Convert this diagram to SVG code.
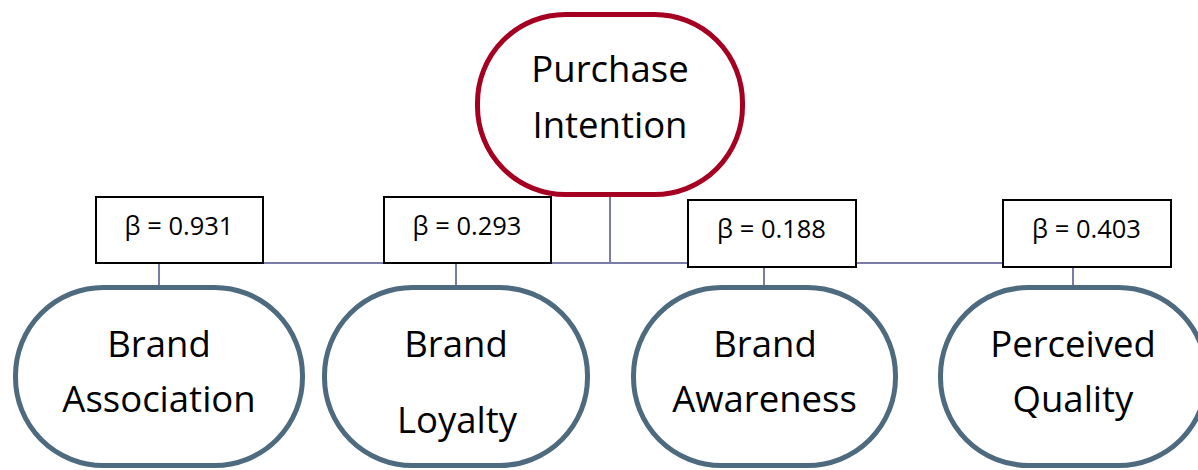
<svg xmlns="http://www.w3.org/2000/svg" width="1198" height="470" viewBox="0 0 1198 470">
<style>
.bg{fill:#ffffff}
.top{fill:#ffffff;stroke:#A50021;stroke-width:5}
.factor{fill:#ffffff;stroke:#4D6A7E;stroke-width:5}
.box{fill:#ffffff;stroke:#000000;stroke-width:2}
.conn{stroke:#7B7BAA;stroke-width:2;fill:none}
.lbl{font-family:"Open Sans","Liberation Sans",sans-serif;font-size:36.5px;fill:#000000;text-anchor:middle}
.beta{font-family:"Open Sans","Liberation Sans",sans-serif;font-size:25.5px;fill:#000000;text-anchor:middle}
</style>
<rect class="bg" x="0" y="0" width="1198" height="470"/>
<g id="connectors">
<line class="conn" x1="610" y1="196" x2="610" y2="263"/>
<line class="conn" x1="263" y1="263" x2="1002" y2="263"/>
<line class="conn" x1="159" y1="263" x2="159" y2="286"/>
<line class="conn" x1="456" y1="263" x2="456" y2="286"/>
<line class="conn" x1="764" y1="267" x2="764" y2="286"/>
<line class="conn" x1="1073" y1="267" x2="1073" y2="286"/>
</g>
<g id="purchase-intention">
<rect class="top" x="477.5" y="14.5" width="265" height="180" rx="88" ry="88"/>
<text class="lbl" x="610" y="82">Purchase</text>
<text class="lbl" x="610" y="138">Intention</text>
</g>
<g id="beta-0931">
<rect class="box" x="96" y="197" width="167" height="66"/>
<text class="beta" x="179" y="235">β = 0.931</text>
</g>
<g id="beta-0293">
<rect class="box" x="384" y="197" width="167" height="66"/>
<text class="beta" x="467" y="235">β = 0.293</text>
</g>
<g id="beta-0188">
<rect class="box" x="688" y="200" width="168" height="67"/>
<text class="beta" x="771.5" y="238">β = 0.188</text>
</g>
<g id="beta-0403">
<rect class="box" x="1003" y="200" width="168" height="67"/>
<text class="beta" x="1086.5" y="238">β = 0.403</text>
</g>
<g id="brand-association">
<rect class="factor" x="15.5" y="287.5" width="287" height="178" rx="88" ry="88"/>
<text class="lbl" x="159" y="357">Brand</text>
<text class="lbl" x="159" y="412">Association</text>
</g>
<g id="brand-loyalty">
<rect class="factor" x="324.5" y="287.5" width="263" height="178" rx="88" ry="88"/>
<text class="lbl" x="456" y="357">Brand</text>
<text class="lbl" x="457" y="433">Loyalty</text>
</g>
<g id="brand-awareness">
<rect class="factor" x="633.5" y="287.5" width="262" height="178" rx="88" ry="88"/>
<text class="lbl" x="765" y="357">Brand</text>
<text class="lbl" x="764.5" y="412">Awareness</text>
</g>
<g id="perceived-quality">
<rect class="factor" x="940.5" y="287.5" width="266" height="178" rx="88" ry="88"/>
<text class="lbl" x="1073" y="357">Perceived</text>
<text class="lbl" x="1073" y="412">Quality</text>
</g>
</svg>
